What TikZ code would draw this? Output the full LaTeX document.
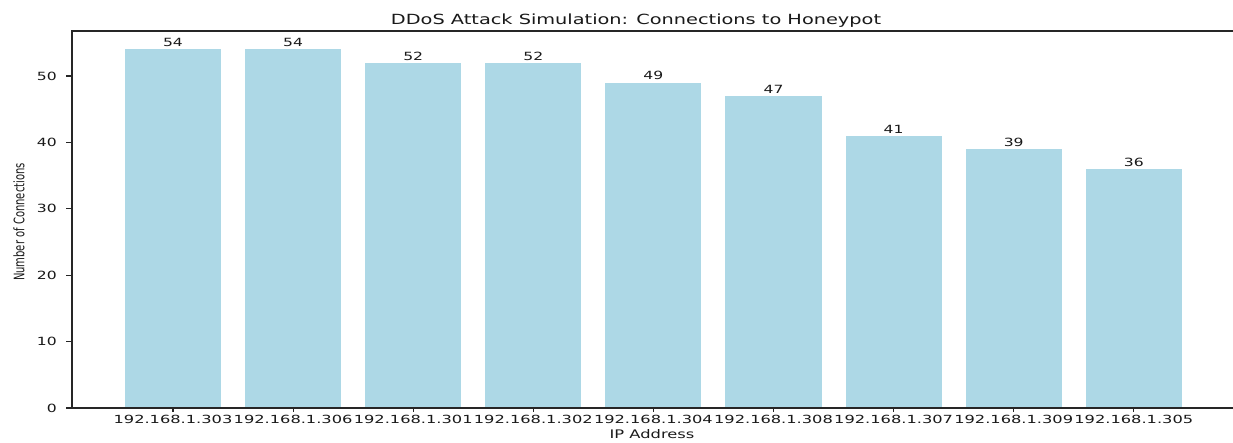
\documentclass[tikz,border=0pt]{standalone}
\usepackage{fontspec}
\setmainfont{DejaVu Sans}[FakeStretch=1.38]
\newfontfamily\narrowfont{DejaVu Sans}
\newfontfamily\widefont{DejaVu Sans}[FakeStretch=1.45]
\definecolor{barblue}{RGB}{173,216,230}
\definecolor{ink}{RGB}{25,25,25}
\begin{document}
\begin{tikzpicture}[x=1pt,y=1pt,
  bar/.style={fill=barblue, draw=none},
  spine/.style={draw=black!85, line width=1.3pt},
  tickmark/.style={draw=black!85, line width=1.1pt},
  ticklbl/.style={font=\fontsize{11.3}{13}\selectfont, text=ink, inner sep=0pt},
  iplbl/.style={font=\widefont\fontsize{11.2}{13}\selectfont, text=ink, inner sep=0pt},
  axislbl/.style={font=\fontsize{11.8}{14}\selectfont, text=ink, inner sep=0pt},
  titlelbl/.style={font=\fontsize{14}{17}\selectfont, text=ink, inner sep=0pt}]
\useasboundingbox (0,0) rectangle (1233,443);

% bars, value labels and category ticks
\foreach \v/\ip [count=\i from 0] in {54/303,54/306,52/301,52/302,49/304,47/308,41/307,39/309,36/305}{
  \pgfmathsetmacro\cx{173+120.1*\i}
  \pgfmathsetmacro\top{35+6.64*\v}
  \fill[bar] (\cx-48.05,35) rectangle (\cx+48.05,\top);
  \node[ticklbl, anchor=base] (val\i) at (\cx,\top+2.7) {\v};
  \draw[tickmark] (\cx,35) -- (\cx,31);
  \node[iplbl, anchor=base] (ip\i) at (\cx,19) {192.168.1.\ip};
}

% value axis ticks
\foreach \t in {0,10,...,50}{
  \pgfmathsetmacro\ty{35+6.64*\t}
  \draw[tickmark] (66,\ty) -- (72,\ty);
  \node[ticklbl, anchor=east] (yt\t) at (57,\ty) {\t};
}

% frame
\draw[spine] (1233,412) -- (72,412) -- (72,35) -- (1233,35);

% titles
\node[titlelbl, anchor=base] (title) at (636,418) {DDoS Attack Simulation: Connections to Honeypot};
\node[axislbl, anchor=base] (xlabel) at (652,4.7) {IP Address};
\node[rotate=90, inner sep=0pt, text=ink] (ylabel) at (19,221)
  {\resizebox{118pt}{11pt}{\narrowfont Number of Connections}};
\end{tikzpicture}
\end{document}
